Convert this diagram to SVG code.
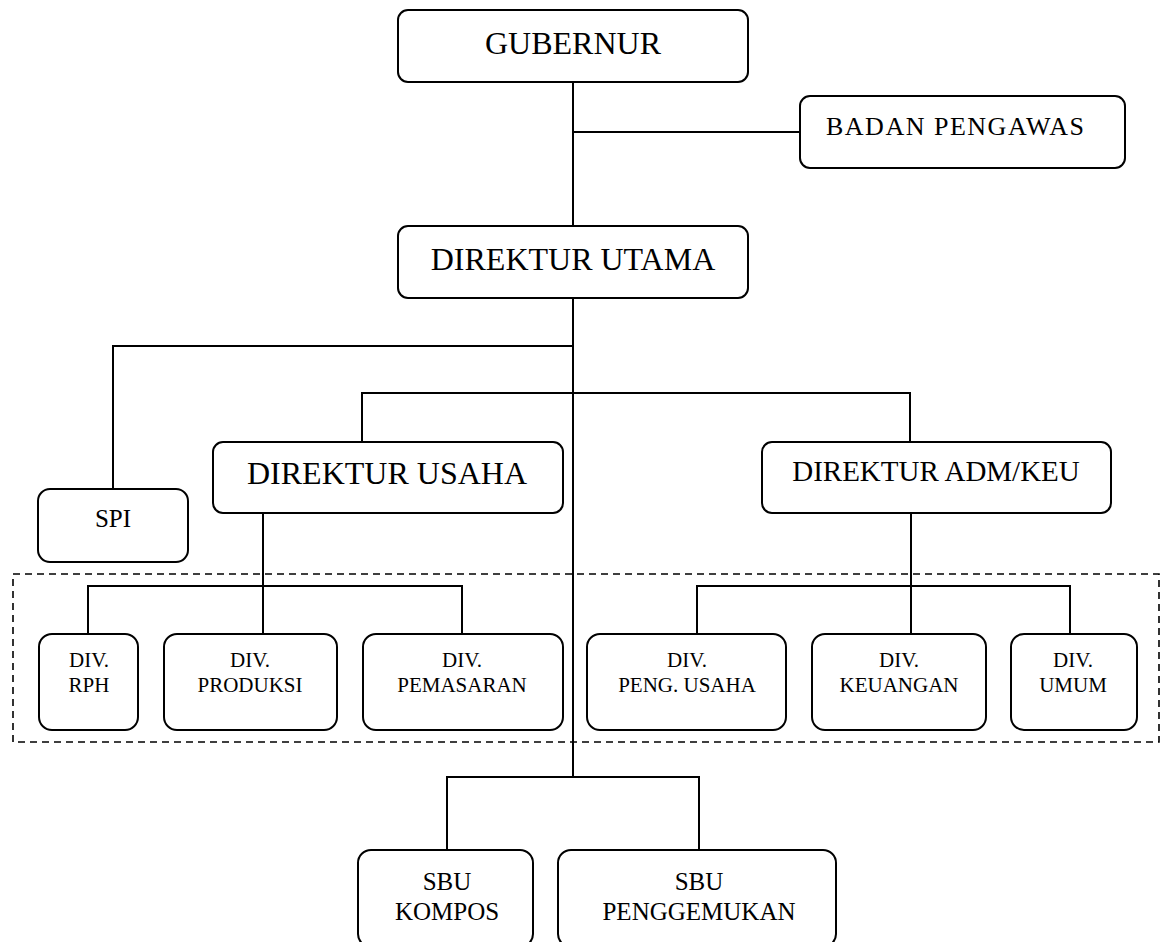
<svg xmlns="http://www.w3.org/2000/svg" width="1160" height="942" viewBox="0 0 1160 942" font-family="'Liberation Serif', 'Times New Roman', Tinos, 'DejaVu Serif', serif">
<style>
.box{fill:#fff;stroke:#000;stroke-width:2}
.ln{fill:none;stroke:#000;stroke-width:2}
.dash{fill:none;stroke:#000;stroke-width:1.6;stroke-dasharray:7 5}
text{font-family:'Liberation Serif','Times New Roman',Tinos,'DejaVu Serif',serif;fill:#000;text-anchor:middle}
.t32{font-size:32px}
.t29{font-size:29px}
.t26{font-size:26px}
.t25{font-size:25px}
.t21{font-size:21px}
</style>
<rect width="1160" height="942" fill="#fff"/>
<g id="group-divisi">
<rect class="dash" x="13" y="574" width="1146" height="168"/>
</g>
<g id="connectors">
<path class="ln" d="M573 82 V226 M573 132 H800 M573 298 V777 M573 346 H113 V489 M362 442 V393 H910 V442 M263 513 V634 M88 634 V586 H462 V634 M911 513 V634 M697 634 V586 H1070 V634 M447 850 V777 H699 V850"/>
</g>
<g id="gubernur">
<rect class="box" x="398" y="10" width="350" height="72" rx="10"/>
<text class="t32" x="573" y="54">GUBERNUR</text>
</g>
<g id="badan-pengawas">
<rect class="box" x="800" y="96" width="325" height="72" rx="10"/>
<text class="t26" x="955" y="135" textLength="258" lengthAdjust="spacing">BADAN PENGAWAS</text>
</g>
<g id="direktur-utama">
<rect class="box" x="398" y="226" width="350" height="72" rx="10"/>
<text class="t32" x="573" y="270">DIREKTUR UTAMA</text>
</g>
<g id="spi">
<rect class="box" x="38" y="489" width="150" height="73" rx="12"/>
<text class="t25" x="113" y="527">SPI</text>
</g>
<g id="direktur-usaha">
<rect class="box" x="213" y="442" width="350" height="71" rx="10"/>
<text class="t32" x="387" y="484">DIREKTUR USAHA</text>
</g>
<g id="direktur-admkeu">
<rect class="box" x="762" y="442" width="349" height="71" rx="10"/>
<text class="t29" x="936" y="481">DIREKTUR ADM/KEU</text>
</g>
<g id="div-rph">
<rect class="box" x="39" y="634" width="99" height="96" rx="13"/>
<text class="t21" x="89" y="667">DIV.</text>
<text class="t21" x="89" y="692">RPH</text>
</g>
<g id="div-produksi">
<rect class="box" x="164" y="634" width="173" height="96" rx="13"/>
<text class="t21" x="250" y="667">DIV.</text>
<text class="t21" x="250" y="692">PRODUKSI</text>
</g>
<g id="div-pemasaran">
<rect class="box" x="363" y="634" width="200" height="96" rx="13"/>
<text class="t21" x="462" y="667">DIV.</text>
<text class="t21" x="462" y="692">PEMASARAN</text>
</g>
<g id="div-peng-usaha">
<rect class="box" x="587" y="634" width="199" height="96" rx="13"/>
<text class="t21" x="687" y="667">DIV.</text>
<text class="t21" x="687" y="692">PENG. USAHA</text>
</g>
<g id="div-keuangan">
<rect class="box" x="812" y="634" width="174" height="96" rx="13"/>
<text class="t21" x="899" y="667">DIV.</text>
<text class="t21" x="899" y="692">KEUANGAN</text>
</g>
<g id="div-umum">
<rect class="box" x="1011" y="634" width="126" height="96" rx="13"/>
<text class="t21" x="1073" y="667">DIV.</text>
<text class="t21" x="1073" y="692">UMUM</text>
</g>
<g id="sbu-kompos">
<rect class="box" x="358" y="850" width="175" height="97" rx="13"/>
<text class="t25" x="447" y="890">SBU</text>
<text class="t25" x="447" y="920">KOMPOS</text>
</g>
<g id="sbu-penggemukan">
<rect class="box" x="558" y="850" width="278" height="97" rx="13"/>
<text class="t25" x="699" y="890">SBU</text>
<text class="t25" x="699" y="920">PENGGEMUKAN</text>
</g>
</svg>
